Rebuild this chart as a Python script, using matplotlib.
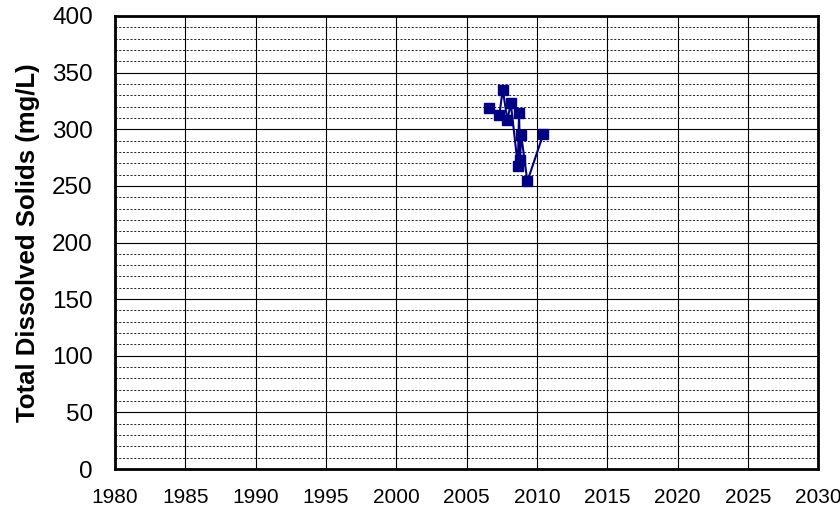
import matplotlib
matplotlib.use('Agg')
import matplotlib.pyplot as plt
from matplotlib.ticker import MultipleLocator

plt.rcParams['font.family'] = ['Liberation Sans', 'DejaVu Sans']

# sample dates (decimal years) and TDS values
years = [2006.62, 2007.33, 2007.57, 2007.90, 2008.14, 2008.64, 2008.73,
         2008.80, 2008.88, 2009.32, 2010.46]
tds = [319, 313, 335, 308, 323, 268, 314, 273, 295, 254, 296]

x_ticks = list(range(1980, 2031, 5))
y_ticks = list(range(0, 401, 50))

fig = plt.figure(figsize=(8.4, 5.16), dpi=100)
ax = fig.add_axes([0.137, 0.091, 0.837, 0.878])

ax.set_xlim(1980, 2030)
ax.set_ylim(0, 400)
ax.set_xticks(x_ticks)
ax.set_yticks(y_ticks)
ax.yaxis.set_minor_locator(MultipleLocator(10))

# grid: solid majors, dashed minors on y
ax.grid(which='major', axis='both', color='black', linewidth=0.8, linestyle='-')
ax.grid(which='minor', axis='y', color='black', linewidth=0.6, linestyle=(0, (2.5, 2)))
ax.set_axisbelow(True)

ax.plot(years, tds, color='#000080', linewidth=1.5, marker='s', markersize=6.5,
        markerfacecolor='#000080', markeredgecolor='#000080', zorder=3)

for s in ax.spines.values():
    s.set_linewidth(2)
    s.set_color('black')

ax.tick_params(which='both', length=0)
ax.tick_params(axis='y', labelsize=17.5, pad=16)
ax.tick_params(axis='x', labelsize=15, pad=14)
ax.set_ylabel('Total Dissolved Solids (mg/L)', fontsize=18.5, fontweight='bold', labelpad=9)

fig.savefig('out.png', dpi=100)
